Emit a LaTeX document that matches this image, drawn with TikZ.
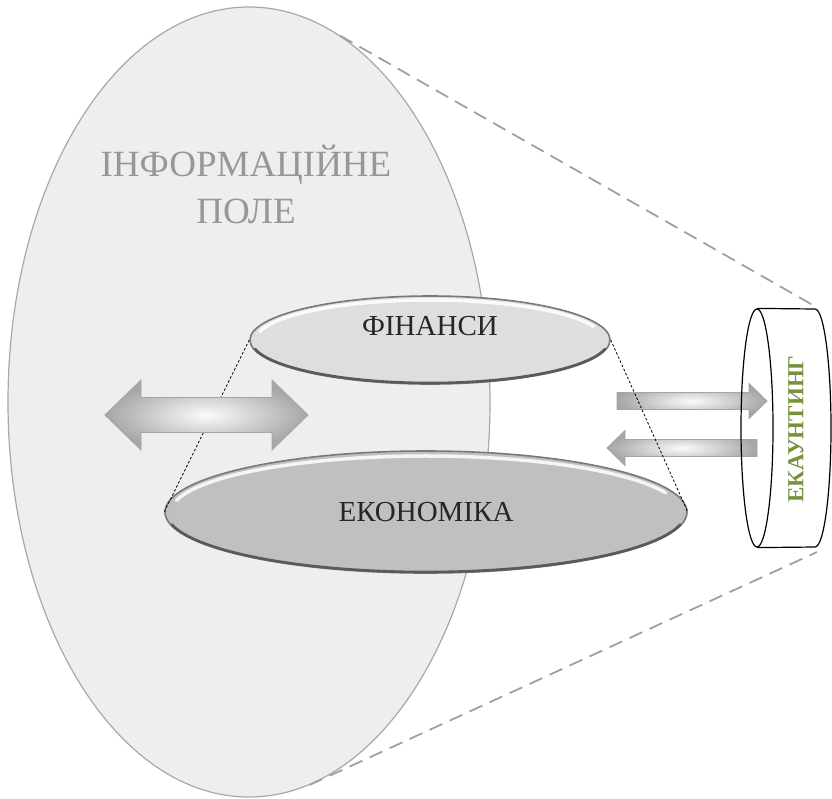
\documentclass[tikz,border=0pt]{standalone}
\usepackage{fontspec}
\setmainfont{Liberation Serif}
\usepackage{tikz}
\usetikzlibrary{shapes.geometric, calc}
\definecolor{CampoFondo}{RGB}{238, 238, 238}
\definecolor{CampoBorde}{RGB}{168, 168, 168}
\definecolor{CampoTexto}{RGB}{150, 151, 154}
\definecolor{GrisClaro}{RGB}{222, 222, 222}
\definecolor{GrisMedio}{RGB}{192, 192, 192}
\definecolor{Borde}{RGB}{120, 120, 120}
\definecolor{Sombra}{RGB}{90, 90, 90}
\definecolor{FlechaOscuro}{RGB}{165, 166, 168}
\definecolor{FlechaBorde}{RGB}{165, 165, 165}
\definecolor{Oliva}{RGB}{118, 146, 60}
\definecolor{Guion}{RGB}{160, 160, 160}

\begin{document}
\begin{tikzpicture}[
        x=1pt, y=-1pt,
        campo/.style={
            ellipse,
            inner sep=0pt,
            fill=CampoFondo,
            draw=CampoBorde,
            line width=1.2pt
        },
        disco/.style={
            ellipse,
            inner sep=0pt,
            draw=Borde,
            line width=1.6pt,
            text=black!85,
            font=\fontsize{29}{34}\selectfont
        },
        brillo/.style={
            white,
            opacity=0.85,
            line width=3.5pt,
            line cap=round
        },
        sombra/.style={
            Sombra,
            line width=2.6pt,
            line cap=round
        },
        flecha/.style={
            draw=FlechaBorde,
            line width=0.8pt,
            inner color=white!97!gray,
            outer color=FlechaOscuro
        },
        guia/.style={
            dashed,
            dash pattern=on 14pt off 8pt,
            draw=Guion,
            line width=1.8pt
        },
        punteado/.style={
            densely dashed,
            dash pattern=on 2.5pt off 2pt,
            line width=0.8pt
        }
    ]
        \useasboundingbox (0,0) rectangle (832,798);

        % Information field
        \node[campo, minimum width=482pt, minimum height=790pt] (campo) at (249,402) {};
        \node[text=CampoTexto, align=center, font=\fontsize{37}{47}\selectfont] (campotxt) at (246,184) {ІНФОРМАЦІЙНЕ\\ПОЛЕ};

        % Cylinder corners for the guide lines
        \coordinate (cilarriba) at (818,308);
        \coordinate (cilabajo) at (817,552);
        \draw[guia] (campo.76) -- (cilarriba);
        \draw[guia] (campo.279) -- (cilabajo);

        % Discs
        \node[disco, fill=GrisClaro, minimum width=360pt, minimum height=88pt, text depth=28pt] (fin) at (430,340) {ФІНАНСИ};
        \node[disco, fill=GrisMedio, minimum width=522pt, minimum height=122pt] (eco) at (426,512) {ЕКОНОМІКА};
        \draw[brillo] ($(fin.center)+(192:174 and 40)$) arc[start angle=192, end angle=340, x radius=174, y radius=40];
        \draw[sombra] ($(fin.center)+(12:179 and 43)$) arc[start angle=12, end angle=168, x radius=179, y radius=43];
        \draw[brillo] ($(eco.center)+(192:255 and 56)$) arc[start angle=192, end angle=340, x radius=255, y radius=56];
        \draw[sombra] ($(eco.center)+(12:260 and 60)$) arc[start angle=12, end angle=168, x radius=260, y radius=60];

        % Dotted side
        \draw[punteado] (fin.west) -- (eco.west);

        % Block arrows
        \draw[flecha] (105,415) -- (141,380) -- (141,397.5) -- (272,397.5) -- (272,380) -- (308,415)
            -- (272,450) -- (272,432.5) -- (141,432.5) -- (141,450) -- cycle;
        \draw[flecha] (617,392.5) -- (749,392.5) -- (749,383.5) -- (767,401) -- (749,418.5)
            -- (749,409.5) -- (617,409.5) -- cycle;
        \draw[flecha] (757,439.5) -- (625,439.5) -- (625,430.5) -- (607,448) -- (625,465.5)
            -- (625,456.5) -- (757,456.5) -- cycle;

        \draw[punteado] (fin.east) -- (eco.east);

        % Cylinder
        \node[ellipse, draw, line width=1.2pt, inner sep=0pt, minimum width=32pt, minimum height=238pt] (cara) at (757,428) {};
        \draw[line width=1.2pt] (cara.north) -- (815,309) arc[start angle=-90, end angle=90, x radius=16, y radius=119] -- (cara.south);
        \node[rotate=90, text=Oliva, font=\bfseries\fontsize{23}{26}\selectfont] (ekaunt) at (796,429) {ЕКАУНТИНГ};
    \end{tikzpicture}
\end{document}
